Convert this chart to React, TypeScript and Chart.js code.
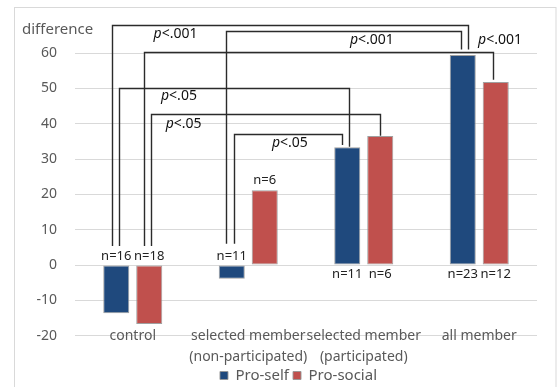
import React, { useEffect, useRef } from 'react';
import { Chart, registerables } from 'chart.js';

Chart.register(...registerables);

// ---- data ----
const categories = [
  ['control'],
  ['selected member', '(non-participated)'],
  ['selected member', '(participated)'],
  ['all member'],
];
const seriesNames = ['Pro-self', 'Pro-social'];
const proSelf = [-13.6, -3.9, 33.3, 59.4];
const proSocial = [-16.7, 21.2, 36.5, 51.8];
const nProSelf = [16, 11, 11, 23];
const nProSocial = [18, 6, 6, 12];
// where the n label sits: 'base' = outside the zero line, 'end' = above bar end
const nPlaceSelf = ['base', 'base', 'base', 'base'];
const nPlaceSocial = ['base', 'end', 'base', 'base'];
const yMin = -20;
const yMax = 60;
const yStep = 10;
const yTitle = 'difference';

// significance brackets: [category, series] endpoints, values in y units
const brackets = [
  { from: [0, 0], to: [3, 0], top: 67.9, fromEnd: 5.4, toEnd: 61.0, dxFrom: -4, dxTo: 5, p: '<.001', labelAt: [0.37, 65.3] },
  { from: [1, 0], to: [3, 0], top: 66.2, fromEnd: 6.0, toEnd: 61.0, dxFrom: -6, dxTo: -2, p: '<.001', labelAt: [2.07, 63.6] },
  { from: [0, 1], to: [3, 1], top: 60.3, fromEnd: 5.4, toEnd: 52.4, dxFrom: -5, dxTo: -3, p: '<.001', labelAt: [3.18, 63.6] },
  { from: [0, 0], to: [2, 0], top: 50.1, fromEnd: 5.4, toEnd: 33.5, dxFrom: 3, dxTo: 2, p: '<.05', labelAt: [0.4, 47.8] },
  { from: [0, 1], to: [2, 1], top: 42.8, fromEnd: 5.4, toEnd: 36.6, dxFrom: 2, dxTo: 0, p: '<.05', labelAt: [0.44, 39.9] },
  { from: [1, 0], to: [2, 0], top: 37.1, fromEnd: 6.0, toEnd: 34.0, dxFrom: 2, dxTo: -5, p: '<.05', labelAt: [1.36, 34.5] },
];

const FONT = '"Noto Sans", "Open Sans", sans-serif';
const GRAY = '#595959';

const extrasPlugin = {
  id: 'extras',
  afterLayout(chart: any) {
    // centre the legend under the bars like the original
    const lg = chart.legend;
    if (lg) {
      lg.left += 30;
      lg.right += 30;
      lg.top += 6;
      lg.bottom += 6;
    }
  },
  beforeDraw(chart: any) {
    const { ctx } = chart;
    ctx.save();
    ctx.strokeStyle = '#d9d9d9';
    ctx.lineWidth = 1;
    ctx.strokeRect(14.5, 7.5, 541.5, 420);
    ctx.restore();
  },
  afterDatasetsDraw(chart: any) {
    const { ctx, chartArea } = chart;
    const xs = chart.scales.x;
    const ys = chart.scales.y;
    const bar = (cat: number, s: number) => chart.getDatasetMeta(s).data[cat];
    ctx.save();
    // y title
    ctx.fillStyle = GRAY;
    ctx.font = `15px ${FONT}`;
    ctx.textAlign = 'left';
    ctx.textBaseline = 'middle';
    ctx.fillText(yTitle, chartArea.left - 53, 30);

    // category labels (sitting on the bottom gridline, as in the original)
    ctx.font = `14px ${FONT}`;
    ctx.fillStyle = GRAY;
    ctx.textAlign = 'center';
    categories.forEach((lines, i) => {
      const cx = xs.getPixelForValue(i);
      lines.forEach((t, k) => ctx.fillText(t, cx, chartArea.bottom + k * 21));
    });

    // n labels
    const y0 = ys.getPixelForValue(0);
    const nSets = [
      { vals: proSelf, ns: nProSelf, place: nPlaceSelf },
      { vals: proSocial, ns: nProSocial, place: nPlaceSocial },
    ];
    ctx.font = `13px ${FONT}`;
    ctx.fillStyle = '#222';
    ctx.textAlign = 'center';
    nSets.forEach((set, s) => {
      set.vals.forEach((v, i) => {
        const el = bar(i, s);
        let ty: number;
        if (set.place[i] === 'end') ty = el.y - 10;
        else ty = v < 0 ? y0 - 9 : y0 + 9;
        ctx.fillText('n=' + set.ns[i], el.x, ty);
      });
    });

    // brackets
    ctx.strokeStyle = '#2b2b2b';
    ctx.lineWidth = 1.4;
    brackets.forEach((b) => {
      const x1 = Math.round(bar(b.from[0], b.from[1]).x + b.dxFrom) + 0.5;
      const x2 = Math.round(bar(b.to[0], b.to[1]).x + b.dxTo) + 0.5;
      const yt = Math.round(ys.getPixelForValue(b.top)) + 0.5;
      ctx.beginPath();
      ctx.moveTo(x1, ys.getPixelForValue(b.fromEnd));
      ctx.lineTo(x1, yt);
      ctx.lineTo(x2, yt);
      ctx.lineTo(x2, ys.getPixelForValue(b.toEnd));
      ctx.stroke();
      // label
      const lx = xs.getPixelForValue(b.labelAt[0]);
      const ly = ys.getPixelForValue(b.labelAt[1]);
      ctx.textBaseline = 'middle';
      ctx.textAlign = 'left';
      ctx.font = `italic 14px ${FONT}`;
      const wp = ctx.measureText('p').width;
      ctx.font = `14px ${FONT}`;
      const wr = ctx.measureText(b.p).width;
      const start = lx - (wp + wr) / 2;
      ctx.fillStyle = '#111';
      ctx.font = `italic 14px ${FONT}`;
      ctx.fillText('p', start, ly);
      ctx.font = `14px ${FONT}`;
      ctx.fillText(b.p, start + wp, ly);
    });
    ctx.restore();
  },
};

export default function App() {
  const ref = useRef<HTMLCanvasElement | null>(null);
  useEffect(() => {
    if (!ref.current) return;
    const chart = new Chart(ref.current, {
      type: 'bar',
      data: {
        labels: categories,
        datasets: [
          {
            label: seriesNames[0],
            data: proSelf,
            backgroundColor: '#1f497d',
            borderColor: 'rgba(150,150,150,0.9)',
            borderWidth: 1,
            borderSkipped: false,
            barPercentage: 0.79,
            categoryPercentage: 0.571,
          },
          {
            label: seriesNames[1],
            data: proSocial,
            backgroundColor: '#c0504d',
            borderColor: 'rgba(150,150,150,0.9)',
            borderWidth: 1,
            borderSkipped: false,
            barPercentage: 0.79,
            categoryPercentage: 0.571,
          },
        ],
      },
      options: {
        responsive: false,
        animation: false,
        layout: { padding: { top: 53, right: 21, left: 0, bottom: 0 } },
        plugins: {
          tooltip: { enabled: false },
          legend: {
            position: 'bottom',
            labels: {
              boxWidth: 8,
              boxHeight: 8,
              padding: 4,
              color: GRAY,
              font: { family: FONT, size: 15 },
            },
          },
        },
        scales: {
          x: {
            grid: { display: false, drawTicks: false },
            border: { display: false },
            ticks: { display: false },
            afterFit: (s: any) => { s.height = 22.25; },
          },
          y: {
            min: yMin,
            max: yMax,
            grid: { color: '#d9d9d9', drawTicks: false },
            border: { display: false },
            ticks: {
              stepSize: yStep,
              color: GRAY,
              padding: 18,
              font: { family: FONT, size: 14 },
            },
            afterFit: (s: any) => { s.width = 75; },
          },
        },
      },
      plugins: [extrasPlugin],
    });
    return () => chart.destroy();
  }, []);
  return (
    <div style={{ position: 'absolute', left: 0, top: 0, width: 558, height: 387, background: '#fff' }}>
      <canvas ref={ref} width={558} height={387} style={{ display: 'block' }} />
    </div>
  );
}
